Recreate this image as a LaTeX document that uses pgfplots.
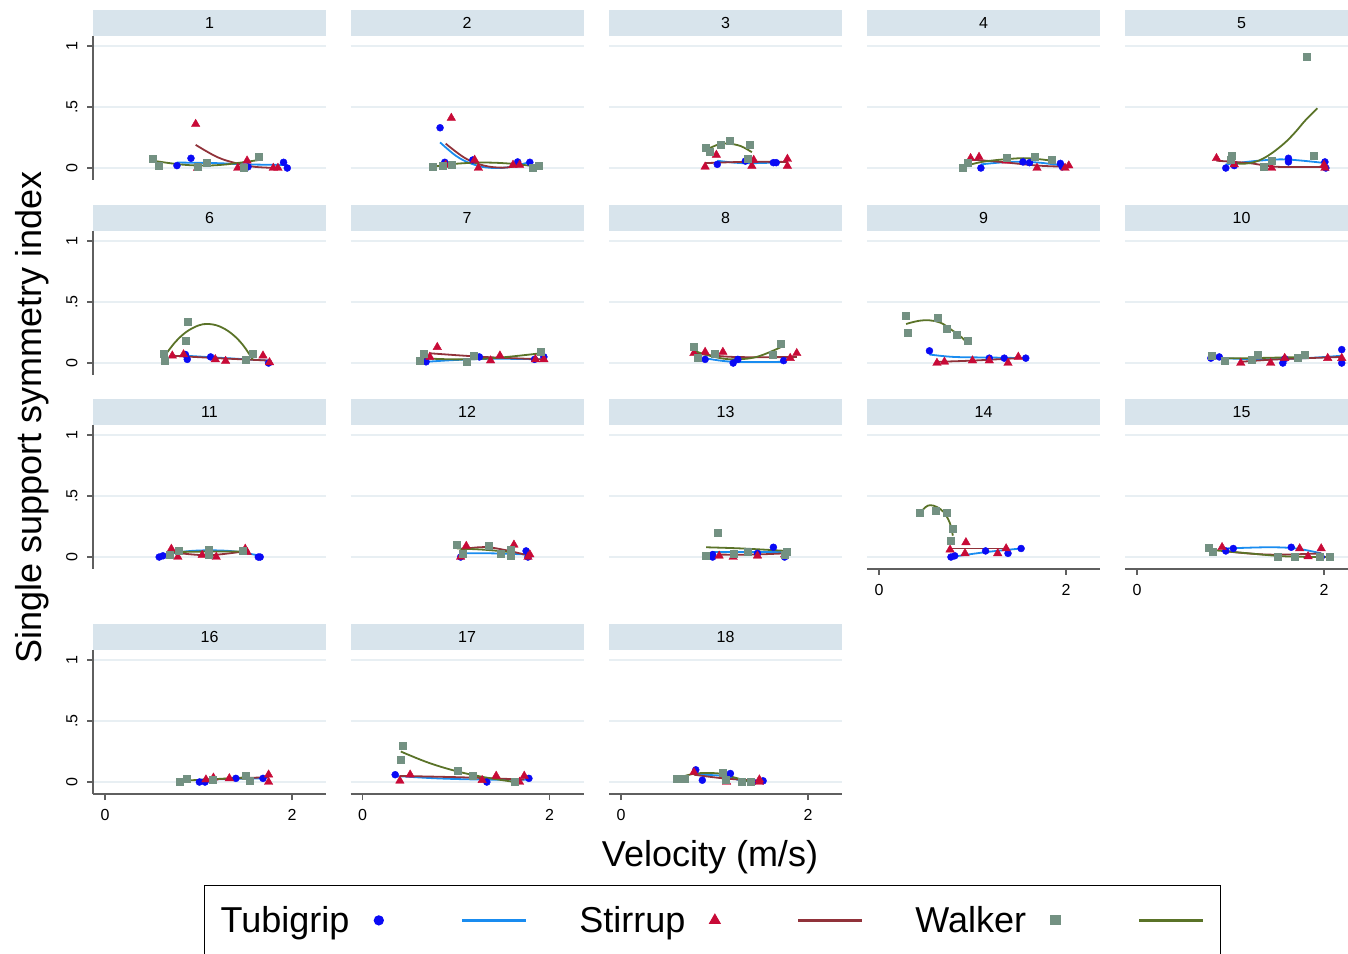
\documentclass[border=0pt]{standalone}
\usepackage{fontspec}
\setmainfont{Liberation Sans}
\usepackage{pgfplots}
\pgfplotsset{compat=1.18}
\definecolor{tdc}{RGB}{10,10,245}
\definecolor{tlc}{RGB}{25,140,240}
\definecolor{sdc}{RGB}{200,10,55}
\definecolor{slc}{RGB}{145,50,58}
\definecolor{wdc}{RGB}{115,145,130}
\definecolor{wlc}{RGB}{90,115,40}
\definecolor{stripc}{RGB}{216,228,236}
\definecolor{gridc}{RGB}{232,239,243}
\definecolor{axc}{RGB}{95,95,95}
\newcommand\tkfont{\fontsize{16}{19}\selectfont}
\newcommand\bigfont{\fontsize{36}{42}\selectfont}
\pgfplotsset{
  every axis title shift=0pt,
  base/.style={
    scale only axis, width=233pt, height=144pt, anchor=north west,
    xmin=-0.128, xmax=2.364, ymin=-0.098, ymax=1.082,
    separate axis lines, axis x line*=bottom, axis y line*=left,
    x axis line style={draw=none}, y axis line style={draw=none},
    xtick=\empty, ytick={0,0.5,1}, yticklabels={},
    xtick style={draw=none}, ytick style={draw=none},
    tick align=outside, major tick length=6pt,
    ymajorgrids, grid style={draw=gridc, line width=1.4pt},
    ticklabel style={font=\tkfont},
    title style={at={(0.5,1)}, anchor=south, yshift=0pt, fill=stripc, minimum width=233pt, minimum height=26pt, inner sep=0pt, font=\tkfont},
  },
  lc/.style={y axis line style={draw=axc, line width=1.2pt}, ytick style={draw=axc, line width=1.2pt}, yticklabels={0,.5,1}, yticklabel style={xshift=-6pt, rotate=90, anchor=south}},
  bc/.style={x axis line style={draw=axc, line width=1.2pt}, xtick style={draw=axc, line width=1.2pt}, xtick={0,2}, xticklabels={0,2}, xticklabel style={yshift=-6pt}},
  td/.style={only marks, mark=*, mark size=3.5pt, color=tdc, mark options={draw=none, fill=tdc}},
  sd/.style={only marks, mark=triangle*, mark size=4.9pt, color=sdc, mark options={draw=none, fill=sdc}},
  wd/.style={only marks, mark=square*, mark size=3.5pt, color=wdc, mark options={draw=none, fill=wdc}},
  tl/.style={no markers, smooth, tension=0.6, line width=1.8pt, color=tlc},
  sl/.style={no markers, smooth, tension=0.6, line width=1.8pt, color=slc},
  wl/.style={no markers, smooth, tension=0.6, line width=1.8pt, color=wlc},
  lmark/.style={legend image code/.code={\path[draw=none,fill=none] (-10pt,-1pt) rectangle (10pt,1pt); \draw[##1] plot coordinates {(0pt,0pt)};}},
  lline/.style={legend image code/.code={\draw[##1] (0pt,0pt) -- (64pt,0pt);}},
}
\begin{document}
\begin{tikzpicture}
\useasboundingbox (0,0) rectangle (1348pt,953pt);
% ---- Row 1 ----
\begin{axis}[base, lc, at={(93pt,917pt)}, title={1}]
\addplot[td] coordinates {(0.77,0.02)(0.92,0.08)(1.53,0.01)(1.91,0.047)(1.95,0.0)};
\addplot[tl] coordinates {(0.77,0.045)(1.2,0.04)(1.5,0.03)(1.95,0.025)};
\addplot[sd] coordinates {(0.97,0.36)(0.99,0.0)(1.42,0.0)(1.52,0.06)(1.80,0.0)(1.85,0.0)};
\addplot[sl] coordinates {(0.97,0.19)(1.2,0.09)(1.4,0.04)(1.6,0.01)(1.85,0.0)};
\addplot[wd] coordinates {(0.51,0.08)(0.57,0.016)(0.99,0.01)(1.09,0.04)(1.48,0.0)(1.64,0.09)};
\addplot[wl] coordinates {(0.51,0.06)(0.8,0.03)(1.05,0.02)(1.3,0.03)(1.64,0.065)};
\end{axis}
\begin{axis}[base, at={(350.5pt,917pt)}, title={2}]
\addplot[td] coordinates {(0.83,0.33)(0.88,0.047)(1.18,0.066)(1.66,0.05)(1.79,0.047)};
\addplot[tl] coordinates {(0.83,0.21)(1.0,0.1)(1.15,0.04)(1.32,0.005)(1.55,0.005)(1.79,0.05)};
\addplot[sd] coordinates {(0.89,0.025)(0.95,0.41)(1.20,0.066)(1.24,0.0)(1.61,0.025)(1.68,0.025)};
\addplot[sl] coordinates {(0.89,0.2)(1.1,0.08)(1.3,0.02)(1.5,0.003)(1.68,0.02)};
\addplot[wd] coordinates {(0.75,0.01)(0.86,0.016)(0.95,0.03)(1.82,0.0)(1.88,0.016)};
\addplot[wl] coordinates {(0.75,0.01)(1.0,0.035)(1.3,0.045)(1.6,0.035)(1.88,0.01)};
\end{axis}
\begin{axis}[base, at={(609pt,917pt)}, title={3}]
\addplot[td] coordinates {(1.03,0.03)(1.33,0.057)(1.63,0.044)(1.66,0.044)};
\addplot[tl] coordinates {(1.03,0.06)(1.3,0.04)(1.66,0.045)};
\addplot[sd] coordinates {(0.90,0.01)(1.02,0.107)(1.40,0.016)(1.42,0.065)(1.78,0.074)(1.78,0.016)};
\addplot[sl] coordinates {(0.90,0.04)(1.3,0.05)(1.78,0.05)};
\addplot[wd] coordinates {(0.91,0.17)(0.95,0.13)(1.07,0.19)(1.16,0.22)(1.38,0.19)(1.36,0.076)};
\addplot[wl] coordinates {(0.91,0.15)(1.05,0.195)(1.15,0.2)(1.28,0.18)(1.40,0.13)};
\end{axis}
\begin{axis}[base, at={(867pt,917pt)}, title={4}]
\addplot[td] coordinates {(1.09,0.0)(1.54,0.05)(1.61,0.044)(1.94,0.038)(1.96,0.01)};
\addplot[tl] coordinates {(1.09,0.03)(1.4,0.05)(1.7,0.045)(1.96,0.02)};
\addplot[sd] coordinates {(0.98,0.08)(1.07,0.09)(1.36,0.06)(1.69,0.0)(1.99,0.0)(2.03,0.02)};
\addplot[sl] coordinates {(0.98,0.07)(1.3,0.05)(1.7,0.02)(2.03,0.01)};
\addplot[wd] coordinates {(0.90,0.0)(0.95,0.044)(1.37,0.085)(1.67,0.093)(1.85,0.066)};
\addplot[wl] coordinates {(0.90,0.01)(1.1,0.05)(1.4,0.075)(1.6,0.08)(1.85,0.06)};
\end{axis}
\begin{axis}[base, at={(1125pt,917pt)}, title={5}]
\addplot[td] coordinates {(0.95,0.0)(1.04,0.02)(1.62,0.08)(1.62,0.05)(2.01,0.05)(2.02,0.0)};
\addplot[tl] coordinates {(0.95,0.03)(1.3,0.06)(1.6,0.07)(2.02,0.04)};
\addplot[sd] coordinates {(0.85,0.08)(1.04,0.03)(1.44,0.0)(2.0,0.025)(2.01,0.0)};
\addplot[sl] coordinates {(0.85,0.06)(1.2,0.04)(1.5,0.01)(2.01,0.01)};
\addplot[wd] coordinates {(1.0,0.066)(1.01,0.105)(1.35,0.01)(1.44,0.057)(1.82,0.91)(1.89,0.10)};
\addplot[wl] coordinates {(1.0,0.05)(1.1,0.035)(1.2,0.04)(1.3,0.06)(1.4,0.10)(1.5,0.155)(1.6,0.22)(1.7,0.30)(1.8,0.39)(1.93,0.49)};
\end{axis}
% ---- Row 2 ----
\begin{axis}[base, lc, at={(93pt,722pt)}, title={6}]
\addplot[td] coordinates {(0.86,0.07)(0.88,0.03)(1.13,0.05)(1.75,0.0)};
\addplot[tl] coordinates {(0.86,0.06)(1.3,0.04)(1.75,0.02)};
\addplot[sd] coordinates {(0.72,0.06)(0.84,0.07)(1.18,0.03)(1.29,0.016)(1.69,0.06)(1.76,0.005)};
\addplot[sl] coordinates {(0.72,0.06)(1.2,0.04)(1.76,0.02)};
\addplot[wd] coordinates {(0.63,0.074)(0.64,0.016)(0.86,0.18)(0.88,0.34)(1.51,0.03)(1.58,0.075)};
\addplot[wl] coordinates {(0.63,0.05)(0.75,0.17)(0.87,0.255)(1.0,0.308)(1.1,0.32)(1.22,0.302)(1.35,0.244)(1.47,0.153)(1.58,0.03)};
\end{axis}
\begin{axis}[base, at={(350.5pt,722pt)}, title={7}]
\addplot[td] coordinates {(0.68,0.01)(1.25,0.05)(1.84,0.03)(1.94,0.05)};
\addplot[tl] coordinates {(0.68,0.01)(1.0,0.025)(1.4,0.035)(1.94,0.03)};
\addplot[sd] coordinates {(0.72,0.05)(0.80,0.13)(1.37,0.02)(1.47,0.06)(1.85,0.03)(1.94,0.03)};
\addplot[sl] coordinates {(0.72,0.08)(1.3,0.05)(1.94,0.03)};
\addplot[wd] coordinates {(0.61,0.02)(0.66,0.074)(1.11,0.01)(1.19,0.057)(1.91,0.094)};
\addplot[wl] coordinates {(0.61,0.04)(1.0,0.03)(1.4,0.04)(1.91,0.08)};
\end{axis}
\begin{axis}[base, at={(609pt,722pt)}, title={8}]
\addplot[td] coordinates {(0.90,0.03)(1.20,0.0)(1.25,0.03)(1.74,0.02)};
\addplot[tl] coordinates {(0.9,0.04)(1.2,0.01)(1.74,0.01)};
\addplot[sd] coordinates {(0.78,0.08)(0.90,0.09)(1.09,0.09)(1.81,0.04)(1.88,0.08)};
\addplot[sl] coordinates {(0.78,0.08)(1.2,0.05)(1.88,0.05)};
\addplot[wd] coordinates {(0.78,0.134)(0.82,0.04)(1.0,0.08)(1.62,0.066)(1.71,0.16)};
\addplot[wl] coordinates {(0.78,0.10)(1.0,0.05)(1.2,0.03)(1.45,0.05)(1.71,0.13)};
\end{axis}
\begin{axis}[base, at={(867pt,722pt)}, title={9}]
\addplot[td] coordinates {(0.54,0.10)(1.18,0.04)(1.34,0.04)(1.57,0.04)};
\addplot[tl] coordinates {(0.54,0.07)(0.8,0.05)(1.2,0.045)(1.57,0.04)};
\addplot[sd] coordinates {(0.62,0.0)(0.70,0.01)(1.00,0.02)(1.18,0.02)(1.38,0.0)(1.49,0.05)};
\addplot[sl] coordinates {(0.62,0.01)(1.0,0.02)(1.49,0.04)};
\addplot[wd] coordinates {(0.29,0.385)(0.31,0.25)(0.63,0.37)(0.72,0.28)(0.83,0.23)(0.95,0.18)};
\addplot[wl] coordinates {(0.29,0.32)(0.42,0.345)(0.54,0.35)(0.66,0.33)(0.77,0.275)(0.87,0.22)(0.95,0.16)};
\end{axis}
\begin{axis}[base, at={(1125pt,722pt)}, title={10}]
\addplot[td] coordinates {(0.79,0.04)(0.88,0.05)(1.56,0.0)(1.58,0.035)(2.19,0.11)(2.19,0.0)};
\addplot[tl] coordinates {(0.79,0.045)(1.3,0.03)(1.8,0.04)(2.19,0.06)};
\addplot[sd] coordinates {(1.11,0.0)(1.43,0.0)(1.58,0.04)(2.04,0.04)(2.19,0.04)};
\addplot[sl] coordinates {(1.11,0.01)(1.5,0.03)(2.19,0.05)};
\addplot[wd] coordinates {(0.80,0.06)(0.94,0.02)(1.23,0.03)(1.29,0.07)(1.72,0.04)(1.79,0.066)};
\addplot[wl] coordinates {(0.8,0.04)(1.2,0.04)(1.79,0.05)};
\end{axis}
% ---- Row 3 ----
\begin{axis}[base, lc, at={(93pt,528pt)}, title={11}]
\addplot[td] coordinates {(0.58,0.0)(0.62,0.01)(1.11,0.05)(1.64,0.0)(1.66,0.0)};
\addplot[tl] coordinates {(0.58,0.01)(0.85,0.045)(1.12,0.055)(1.4,0.045)(1.66,0.01)};
\addplot[sd] coordinates {(0.71,0.066)(0.78,0.0)(1.04,0.016)(1.19,0.0)(1.50,0.066)(1.52,0.04)};
\addplot[sl] coordinates {(0.71,0.04)(1.1,0.015)(1.52,0.05)};
\addplot[wd] coordinates {(0.69,0.02)(0.79,0.05)(1.11,0.06)(1.11,0.02)(1.47,0.05)};
\addplot[wl] coordinates {(0.69,0.04)(1.1,0.045)(1.47,0.045)};
\end{axis}
\begin{axis}[base, at={(350.5pt,528pt)}, title={12}]
\addplot[td] coordinates {(1.05,0.0)(1.75,0.05)(1.77,0.0)};
\addplot[tl] coordinates {(1.05,0.03)(1.4,0.03)(1.77,0.02)};
\addplot[sd] coordinates {(1.05,0.0)(1.11,0.09)(1.62,0.1)(1.77,0.0)(1.79,0.02)};
\addplot[sl] coordinates {(1.05,0.06)(1.35,0.08)(1.79,0.01)};
\addplot[wd] coordinates {(1.01,0.1)(1.07,0.03)(1.35,0.09)(1.48,0.03)(1.59,0.01)(1.59,0.06)};
\addplot[wl] coordinates {(1.01,0.07)(1.3,0.06)(1.59,0.04)};
\end{axis}
\begin{axis}[base, at={(609pt,528pt)}, title={13}]
\addplot[td] coordinates {(0.98,0.02)(0.98,0.0)(1.46,0.03)(1.63,0.08)(1.75,0.0)};
\addplot[tl] coordinates {(0.98,0.04)(1.3,0.04)(1.75,0.04)};
\addplot[sd] coordinates {(1.05,0.01)(1.2,0.0)(1.46,0.01)(1.75,0.02)};
\addplot[sl] coordinates {(1.05,0.02)(1.4,0.02)(1.75,0.03)};
\addplot[wd] coordinates {(0.91,0.01)(1.03,0.2)(1.21,0.03)(1.36,0.04)(1.77,0.04)(1.75,0.02)};
\addplot[wl] coordinates {(0.91,0.08)(1.3,0.07)(1.77,0.05)};
\end{axis}
\begin{axis}[base, bc, at={(867pt,528pt)}, title={14}]
\addplot[td] coordinates {(0.77,0.0)(0.81,0.01)(1.14,0.05)(1.38,0.03)(1.52,0.07)};
\addplot[tl] coordinates {(0.77,0.0)(1.14,0.04)(1.52,0.07)};
\addplot[sd] coordinates {(0.76,0.06)(0.93,0.12)(0.92,0.03)(1.27,0.03)(1.36,0.07)};
\addplot[sl] coordinates {(0.76,0.07)(1.36,0.07)};
\addplot[wd] coordinates {(0.44,0.36)(0.61,0.38)(0.72,0.36)(0.79,0.23)(0.77,0.135)};
\addplot[wl] coordinates {(0.44,0.36)(0.5,0.41)(0.55,0.425)(0.62,0.41)(0.69,0.37)(0.74,0.31)(0.77,0.25)(0.79,0.175)};
\end{axis}
\begin{axis}[base, bc, at={(1125pt,528pt)}, title={15}]
\addplot[td] coordinates {(0.95,0.05)(1.03,0.07)(1.65,0.08)(1.97,0.0)};
\addplot[tl] coordinates {(0.95,0.07)(1.4,0.08)(1.7,0.07)(1.97,0.03)};
\addplot[sd] coordinates {(0.91,0.08)(1.74,0.07)(1.83,0.005)(1.97,0.07)};
\addplot[sl] coordinates {(0.91,0.05)(1.4,0.02)(1.97,0.03)};
\addplot[wd] coordinates {(0.77,0.077)(0.81,0.04)(1.51,0.0)(1.69,0.0)(1.95,0.0)(2.06,0.0)};
\addplot[wl] coordinates {(0.77,0.06)(1.2,0.03)(1.6,0.005)(2.06,0.0)};
\end{axis}
% ---- Row 4 ----
\begin{axis}[base, lc, bc, at={(93pt,303pt)}, title={16}]
\addplot[td] coordinates {(1.01,0.0)(1.07,0.0)(1.40,0.03)(1.69,0.03)};
\addplot[tl] coordinates {(1.01,0.02)(1.69,0.03)};
\addplot[sd] coordinates {(1.08,0.02)(1.16,0.035)(1.33,0.03)(1.75,0.06)(1.75,0.0)};
\addplot[sl] coordinates {(1.08,0.02)(1.75,0.04)};
\addplot[wd] coordinates {(0.80,0.0)(0.87,0.03)(1.15,0.02)(1.51,0.05)(1.55,0.01)};
\addplot[wl] coordinates {(0.80,0.01)(1.2,0.025)(1.55,0.04)};
\end{axis}
\begin{axis}[base, bc, at={(350.5pt,303pt)}, title={17}]
\addplot[td] coordinates {(0.35,0.06)(1.33,0.0)(1.78,0.03)};
\addplot[tl] coordinates {(0.35,0.05)(0.8,0.03)(1.3,0.02)(1.78,0.02)};
\addplot[sd] coordinates {(0.40,0.01)(0.51,0.06)(1.28,0.015)(1.43,0.05)(1.68,0.0)(1.73,0.05)};
\addplot[sl] coordinates {(0.40,0.05)(1.0,0.04)(1.4,0.03)(1.73,0.02)};
\addplot[wd] coordinates {(0.41,0.18)(0.43,0.30)(1.02,0.09)(1.18,0.055)(1.63,0.0)};
\addplot[wl] coordinates {(0.41,0.25)(0.7,0.16)(1.0,0.09)(1.3,0.04)(1.63,0.0)};
\end{axis}
\begin{axis}[base, bc, at={(609pt,303pt)}, title={18}]
\addplot[td] coordinates {(0.80,0.1)(0.87,0.015)(1.17,0.07)(1.41,0.0)(1.52,0.01)};
\addplot[tl] coordinates {(0.8,0.06)(1.1,0.05)(1.3,0.01)(1.52,0.01)};
\addplot[sd] coordinates {(0.78,0.08)(1.13,0.0)(1.48,0.02)(1.48,0.0)};
\addplot[sl] coordinates {(0.78,0.06)(1.1,0.03)(1.48,0.01)};
\addplot[wd] coordinates {(0.60,0.03)(0.68,0.03)(1.09,0.08)(1.12,0.02)(1.29,0.0)(1.39,0.0)};
\addplot[wl] coordinates {(0.60,0.03)(0.8,0.07)(1.05,0.07)(1.2,0.04)(1.39,0.0)};
\end{axis}
% ---- Axis titles ----
\node[rotate=90, anchor=base, font=\bigfont] at (41pt,535.5pt) {Single support symmetry index};
\node[anchor=base, font=\bigfont] at (710pt,87pt) {Velocity (m/s)};
% ---- Legend ----
\begin{axis}[hide axis, scale only axis, width=1348pt, height=953pt, at={(0pt,0pt)}, anchor=south west,
  xmin=0, xmax=1348, ymin=0, ymax=953,
  legend columns=6, legend plot pos=right,
  legend style={at={(axis cs:204,68)}, anchor=north west, draw=black, line width=1.2pt,
    inner xsep=16pt, inner ysep=21pt, font=\bigfont, fill=white,
    nodes={inner sep=0pt},
    /tikz/every odd column/.append style={column sep=19.5pt},
    /tikz/every even column/.append style={column sep=51.5pt}}]
\addlegendimage{only marks, mark=*, mark size=4.5pt, tdc, mark options={draw=none,fill=tdc}, lmark}
\addlegendentry{Tubigrip}
\addlegendimage{tlc, line width=3pt, lline}
\addlegendentry{}
\addlegendimage{only marks, mark=triangle*, mark size=6pt, sdc, mark options={draw=none,fill=sdc}, lmark}
\addlegendentry{Stirrup}
\addlegendimage{slc, line width=3pt, lline}
\addlegendentry{}
\addlegendimage{only marks, mark=square*, mark size=4.5pt, wdc, mark options={draw=none,fill=wdc}, lmark}
\addlegendentry{Walker}
\addlegendimage{wlc, line width=3pt, lline}
\addlegendentry{}
\end{axis}
\end{tikzpicture}
\end{document}
